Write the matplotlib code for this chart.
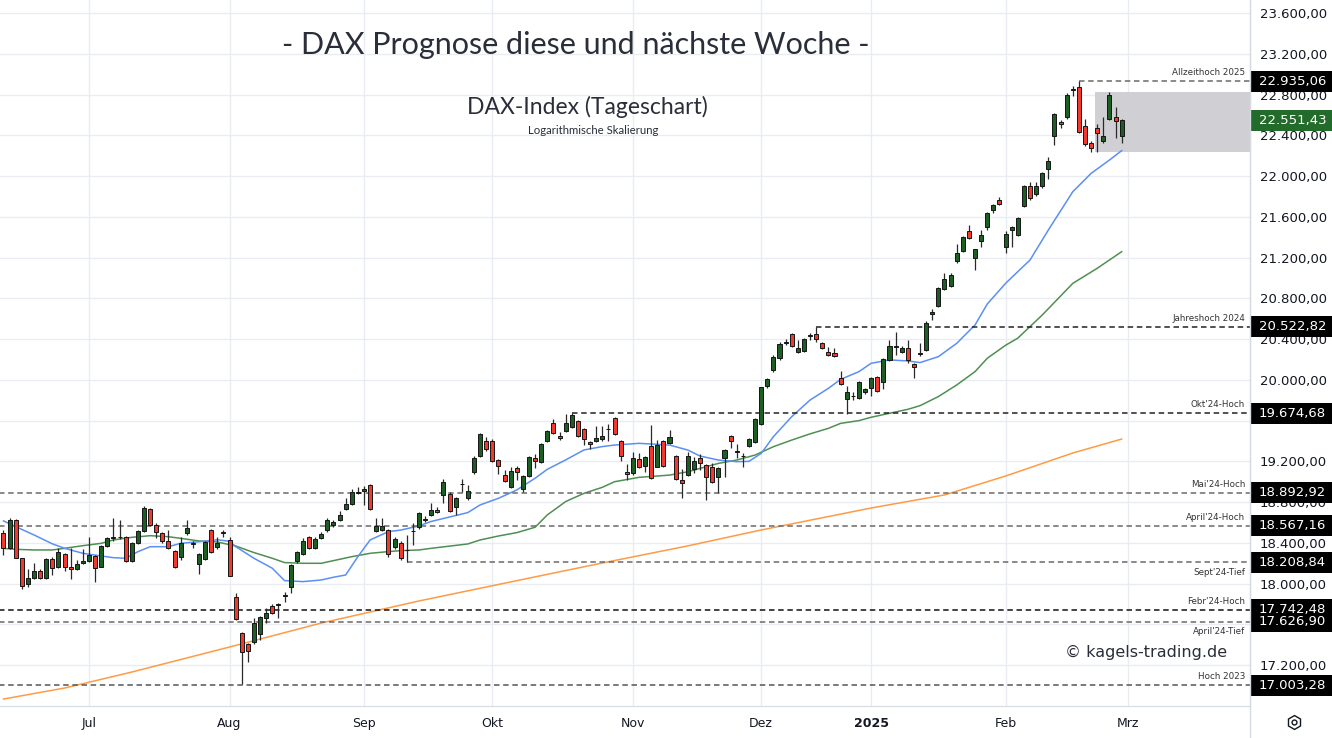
import matplotlib
matplotlib.use("Agg")
import matplotlib.pyplot as plt
import matplotlib.transforms as mtransforms
from matplotlib.patches import Rectangle
from matplotlib.lines import Line2D
import numpy as np
import pandas as pd


# Trading days on the chart (Xetra), 11.06.2024 - 03.03.2025 (last one is empty)
holidays = ["2024-12-24", "2024-12-25", "2024-12-26", "2024-12-31", "2025-01-01"]
days = pd.bdate_range("2024-06-11", "2025-03-03")
days = days[~days.isin(pd.to_datetime(holidays))]

# Daily candles, one line per month (Jun .. Feb)
opens = [
    18493, 18346, 18624, 18248, 17993, 18058, 18123, 18052, 18241, 18159, 18290, 18166, 18143, 18199,
    18225, 18271, 18166, 18369, 18444, 18460, 18460, 18225, 18395, 18520, 18729, 18575, 18500, 18421, 18323, 18264, 18493, 18398, 18192, 18241, 18526, 18356, 18500,
    18428, 17872, 17512, 17407, 17423, 17502, 17659, 17780, 17793, 17880, 17963, 18225, 18291, 18461, 18346, 18451, 18526, 18575, 18625, 18732, 18782, 18886,
    18912, 18968, 18520, 18526, 18526, 18363, 18402, 18330, 18517, 18552, 18628, 18674, 18723, 18870, 18880, 18756, 18975, 18837, 19099, 19253, 19404,
    19404, 19214, 19066, 18952, 19138, 18926, 19057, 19230, 19197, 19400, 19574, 19453, 19502, 19541, 19600, 19515, 19387, 19404, 19417, 19515, 19623, 19400, 19093,
    19083, 19220, 19154, 19350, 19147, 19399, 19377, 19252, 19017, 19066, 19125, 19236, 19164, 19147, 19049, 19229, 19452, 19295, 19252, 19350, 19393,
    19566, 19940, 20097, 20211, 20366, 20450, 20277, 20286, 20432, 20447, 20359, 20277, 20260, 20022, 19813, 19845, 19819, 19878,
    19917, 20025, 19977, 20196, 20327, 20278, 20310, 20153, 20258, 20294, 20647, 20726, 20889, 20922, 21168, 21269, 21462, 21194, 21364, 21505, 21669, 21766,
    21302, 21472, 21423, 21711, 21904, 21822, 21904, 22067, 22398, 22529, 22585, 22850, 22873, 22496, 22329, 22470, 22349, 22562, 22585, 22395,
]
highs = [
    18526, 18641, 18635, 18255, 18140, 18205, 18140, 18250, 18260, 18345, 18300, 18353, 18235, 18336,
    18454, 18280, 18375, 18460, 18640, 18624, 18470, 18405, 18530, 18765, 18740, 18590, 18510, 18527, 18330, 18460, 18627, 18418, 18300, 18420, 18540, 18460, 18526,
    18460, 17911, 17520, 17420, 17660, 17680, 17757, 17800, 17805, 17921, 18190, 18320, 18447, 18470, 18460, 18510, 18640, 18620, 18710, 18840, 18933, 18952,
    18960, 18975, 18641, 18641, 18540, 18460, 18420, 18477, 18592, 18700, 18660, 18795, 18755, 19022, 18895, 18850, 19024, 18968, 19250, 19480, 19437,
    19420, 19225, 19116, 19142, 19150, 19070, 19255, 19270, 19380, 19510, 19617, 19486, 19662, 19675, 19610, 19530, 19400, 19552, 19548, 19570, 19635, 19410, 19174,
    19290, 19280, 19250, 19554, 19406, 19410, 19511, 19265, 19121, 19288, 19240, 19272, 19175, 19180, 19145, 19320, 19460, 19375, 19278, 19430, 19625,
    19935, 20020, 20240, 20370, 20398, 20460, 20390, 20410, 20457, 20523, 20370, 20320, 20316, 20087, 19937, 19880, 19990, 19925,
    20030, 20040, 20215, 20389, 20474, 20330, 20389, 20165, 20360, 20575, 20693, 20915, 21053, 21047, 21331, 21410, 21524, 21290, 21472, 21645, 21730, 21796,
    21465, 21515, 21600, 21910, 21940, 21940, 22040, 22185, 22620, 22552, 22814, 22886, 22935, 22562, 22345, 22516, 22578, 22830, 22683, 22560,
]
lows = [
    18281, 18340, 18250, 17943, 17963, 18040, 18045, 18040, 18085, 18150, 18120, 18042, 18130, 18190,
    18215, 18016, 18160, 18360, 18420, 18440, 18215, 18215, 18385, 18510, 18570, 18445, 18395, 18340, 18150, 18232, 18480, 18346, 18095, 18230, 18300, 18340, 18460,
    18070, 17640, 17014, 17230, 17410, 17443, 17616, 17700, 17666, 17823, 17905, 18200, 18285, 18340, 18335, 18440, 18510, 18560, 18615, 18725, 18770, 18880,
    18772, 18725, 18510, 18515, 18258, 18340, 18230, 18209, 18379, 18540, 18600, 18660, 18690, 18795, 18700, 18674, 18903, 18820, 19080, 19240, 19300,
    19190, 19071, 18995, 18940, 19014, 18900, 19045, 19139, 19185, 19390, 19470, 19410, 19490, 19530, 19440, 19365, 19319, 19390, 19400, 19400, 19460, 19208, 19017,
    19070, 19130, 19100, 19023, 19140, 19140, 19370, 19015, 18843, 19060, 19090, 19112, 18817, 18985, 18892, 19049, 19330, 19230, 19147, 19340, 19380,
    19555, 19920, 20080, 20200, 20340, 20320, 20260, 20270, 20395, 20369, 20300, 20230, 20225, 19950, 19661, 19800, 19810, 19860,
    19838, 19880, 19910, 20185, 20245, 20260, 20170, 20019, 20238, 20285, 20590, 20715, 20880, 20910, 21150, 21260, 21380, 21079, 21308, 21470, 21640, 21720,
    21249, 21308, 21410, 21700, 21766, 21810, 21880, 21973, 22304, 22470, 22559, 22790, 22420, 22300, 22235, 22235, 22329, 22550, 22378, 22329,
]
closes = [
    18346, 18624, 18254, 17976, 18052, 18123, 18052, 18241, 18150, 18307, 18166, 18143, 18192, 18225,
    18281, 18150, 18369, 18444, 18460, 18462, 18222, 18395, 18520, 18739, 18575, 18510, 18421, 18346, 18160, 18395, 18549, 18392, 18290, 18411, 18313, 18402, 18505,
    18075, 17652, 17332, 17338, 17610, 17669, 17715, 17708, 17796, 17884, 18183, 18314, 18422, 18346, 18435, 18484, 18625, 18608, 18674, 18782, 18903, 18903,
    18925, 18732, 18569, 18565, 18291, 18435, 18248, 18330, 18520, 18696, 18634, 18723, 18700, 18994, 18716, 18837, 18980, 18913, 19237, 19466, 19318,
    19204, 19155, 19007, 19109, 19093, 19057, 19246, 19204, 19368, 19498, 19482, 19426, 19574, 19656, 19449, 19417, 19367, 19433, 19453, 19520, 19469, 19256, 19076,
    19237, 19142, 19246, 19033, 19360, 19154, 19442, 19023, 18990, 19252, 19203, 19180, 19049, 18994, 19138, 19311, 19399, 19297, 19255, 19416, 19612,
    19926, 20005, 20221, 20349, 20370, 20336, 20316, 20398, 20436, 20398, 20310, 20244, 20234, 19960, 19885, 19842, 19976, 19907,
    20016, 19894, 20202, 20333, 20330, 20310, 20196, 20130, 20262, 20562, 20664, 20906, 20988, 21030, 21250, 21400, 21390, 21282, 21423, 21636, 21718, 21727,
    21433, 21505, 21586, 21904, 21783, 21907, 22028, 22149, 22608, 22509, 22797, 22855, 22431, 22313, 22280, 22421, 22398, 22797, 22545, 22551.43,
]

# Moving averages (bar = trading day number from 11.06.2024)
sma20_bar = [0, 2, 5, 8, 10, 13, 16, 18, 20, 22, 24, 27, 29, 32, 35, 37, 38, 41, 44, 46, 49, 52, 54, 56, 58,
             60, 63, 65, 68, 70, 76, 78, 81, 84, 87, 89, 92, 95, 98, 100, 104, 109, 112, 114, 117, 120, 122,
             124, 126, 129, 132, 135, 137, 140, 142, 145, 148, 150, 153, 156, 159, 161, 164, 166, 168, 171,
             175, 178, 181, 183]
sma20_val = [18615, 18559, 18477, 18390, 18346, 18297, 18271, 18254, 18248, 18313, 18362, 18362, 18395, 18411,
             18430, 18415, 18363, 18248, 18150, 18029, 18019, 18035, 18062, 18084, 18264, 18428, 18510, 18525,
             18566, 18610, 18697, 18772, 18837, 18919, 19034, 19122, 19214, 19312, 19345, 19360, 19377, 19360,
             19311, 19252, 19213, 19197, 19200, 19278, 19442, 19639, 19802, 19917, 20005, 20081, 20163, 20196,
             20186, 20170, 20228, 20359, 20539, 20745, 20948, 21063, 21177, 21472, 21848, 22028, 22159, 22251]
sma50_bar = [0, 2, 5, 8, 10, 13, 16, 18, 21, 24, 27, 29, 32, 35, 38, 41, 44, 46, 49, 52, 54, 57, 60, 63, 65,
             68, 70, 76, 78, 81, 84, 87, 89, 92, 95, 98, 100, 104, 109, 112, 117, 120, 123, 126, 129, 132,
             135, 137, 140, 142, 145, 148, 150, 153, 156, 159, 161, 164, 166, 170, 175, 179, 183]
sma50_val = [18346, 18336, 18330, 18330, 18346, 18372, 18395, 18428, 18454, 18470, 18460, 18444, 18418, 18408,
             18369, 18304, 18248, 18206, 18199, 18199, 18225, 18264, 18297, 18314, 18323, 18330, 18346, 18389,
             18428, 18467, 18500, 18553, 18674, 18805, 18886, 18945, 19000, 19043, 19065, 19098, 19180, 19213,
             19262, 19344, 19409, 19470, 19524, 19573, 19600, 19633, 19672, 19711, 19747, 19836, 19950, 20081,
             20212, 20340, 20410, 20637, 20948, 21096, 21259]
sma200_bar = [0, 10, 21, 37, 52, 68, 83, 98, 112, 124, 142, 154, 164, 175, 183]
sma200_val = [16866, 16974, 17131, 17377, 17612, 17829, 18016, 18202, 18370, 18526, 18742, 18870, 19056,
              19282, 19419]

# Marked price levels
level_val = [22935.06, 20522.82, 19674.68, 18892.92, 18567.16, 18208.84, 17742.48, 17626.90, 17003.28]
level_name = ["Allzeithoch 2025", "Jahreshoch 2024", "Okt'24-Hoch", "Mai'24-Hoch", "April'24-Hoch",
              "Sept'24-Tief", "Febr'24-Hoch", "April'24-Tief", "Hoch 2023"]
level_from = ["2025-02-19", "2024-12-13", "2024-10-18", None, None, "2024-09-11", None, None, None]
level_color = ["#6a6a6a", "#222222", "#222222", "#6a6a6a", "#6a6a6a", "#6a6a6a", "#111111", "#6a6a6a", "#555555"]

# Consolidation zone (grey box) since 24.02.2025
zone_from = "2025-02-24"
zone_low, zone_high = 22241, 22824

last_price = closes[-1]
month_names = {7: "Jul", 8: "Aug", 9: "Sep", 10: "Okt", 11: "Nov", 12: "Dez", 1: "2025", 2: "Feb", 3: "Mrz"}
# scale ticks that sit fully behind a level box
hidden_ticks = [17600, 19600]


def de_num(v):
    return f"{v:,.2f}".replace(",", "X").replace(".", ",").replace("X", ".")


W, H = 1332, 738
fig = plt.figure(figsize=(W / 100, H / 100), dpi=100)
ax = fig.add_axes([0, 32 / H, 1250 / W, 706 / H])
ax.set_xlim(-0.57, 204.0)
ax.set_ylim(16797.6, 23730.5)

txt = "#131722"
grid = "#e9ecf1"
title_font = ["Lato", "DejaVu Sans"]

# grid + axes
yt = np.arange(17200, 23601, 400)
ax.set_yticks(yt)
ax.yaxis.tick_right()
ax.set_yticklabels(["" if v in hidden_ticks else de_num(v) for v in yt], fontsize=9.5, color=txt)
ax.tick_params(axis="y", length=0, pad=7)

pos = {d: i for i, d in enumerate(days)}
mticks, mlabels = [], []
for i, d in enumerate(days):
    if i > 0 and d.month != days[i - 1].month:
        mticks.append(i)
        mlabels.append(month_names[d.month])
ax.set_xticks(mticks)
ax.set_xticklabels(mlabels, fontsize=9, color=txt)
for lab in ax.get_xticklabels():
    if lab.get_text() == "2025":
        lab.set_fontweight("bold")
ax.tick_params(axis="x", length=0, pad=8)
ax.grid(True, color=grid, lw=1)
ax.set_axisbelow(True)
for s in ["top", "left"]:
    ax.spines[s].set_visible(False)
ax.spines["right"].set_color("#d6dae1")
ax.spines["bottom"].set_color("#d6dae1")
fig.add_artist(Line2D([1250 / W, 1250 / W], [0, 1], color="#d6dae1", lw=1))

# consolidation box
z0 = pos[pd.Timestamp(zone_from)] - 0.35
ax.add_patch(Rectangle((z0, zone_low), 300, zone_high - zone_low, facecolor="#cfcfd4", edgecolor="none", zorder=1.6))

# moving averages
ax.plot(sma200_bar, sma200_val, color="#ff9b45", lw=1.1, zorder=2)
ax.plot(sma50_bar, sma50_val, color="#4f8f52", lw=1.1, zorder=2)
ax.plot(sma20_bar, sma20_val, color="#5b8ff5", lw=1.1, zorder=2)

# level lines
for v, name, start, col in zip(level_val, level_name, level_from, level_color):
    x0 = pos[pd.Timestamp(start)] if start else -1
    ax.hlines(v, x0, 210, color=col, lw=1.1, linestyles=(0, (3.6, 2.4)), zorder=2.2)
    below = "Tief" in name
    ax.annotate(name, (0.996, v), xycoords=("axes fraction", "data"),
                xytext=(0, -7 if below else 6), textcoords="offset points",
                ha="right", va="center", fontsize=6.3, color="#333333")

# candles
x = np.arange(len(closes))
o, h, l, c = map(np.array, (opens, highs, lows, closes))
col = np.where(c >= o, "#1d5e24", "#f2392d")
ax.vlines(x, l, h, color="#2a2a2a", lw=0.9, zorder=3)
ax.bar(x, np.maximum(np.abs(c - o), 1), bottom=np.minimum(o, c), width=0.66,
       color=col, edgecolor="#151515", linewidth=0.7, zorder=4)

# price boxes on the right axis
bt = mtransforms.blended_transform_factory(fig.transFigure, ax.transData)
box_h = 21 * 9.82
for v, fc in [(v, "black") for v in level_val] + [(last_price, "#236b2a")]:
    ax.add_patch(Rectangle((1250 / W, v - box_h / 2), 82 / W, box_h, transform=bt,
                           facecolor=fc, edgecolor="none", clip_on=False, zorder=10))
    ax.text(1259 / W, v, de_num(v), transform=bt, ha="left", va="center",
            fontsize=9.5, color="white", zorder=11, clip_on=False)

# titles
fig.text(576 / W, 1 - 45 / H, "- DAX Prognose diese und nächste Woche -", ha="center", va="center",
         fontsize=22, color="#2a2e39", family=title_font)
fig.text(587 / W, 1 - 107 / H, "DAX-Index (Tageschart)", ha="center", va="center",
         fontsize=16.5, color="#2a2e39", family=title_font)
fig.text(593 / W, 1 - 131 / H, "Logarithmische Skalierung", ha="center", va="center",
         fontsize=8.2, color="#2a2e39", family=title_font)
fig.text(1146 / W, 1 - 652 / H, "© kagels-trading.de", ha="center", va="center",
         fontsize=11.5, color="#2a2e39")

# settings icon
fig.add_artist(Line2D([1294 / W], [1 - 722 / H], marker="h", ms=10, mfc="none", mec=txt, mew=1))
fig.add_artist(Line2D([1294 / W], [1 - 722 / H], marker="o", ms=3.5, mfc="none", mec=txt, mew=1))

fig.savefig("out.png", dpi=100)
